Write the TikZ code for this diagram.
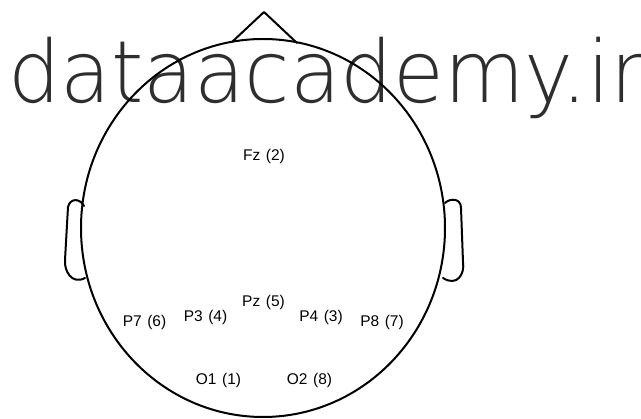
\documentclass[tikz,border=0pt]{standalone}
\usepackage{fontspec}
\newfontfamily\labfont{Liberation Sans}
\IfFontExistsTF{DejaVu Sans ExtraLight}
  {\newfontfamily\logofont{DejaVu Sans ExtraLight}\def\logocol{black!82}}
  {\newfontfamily\logofont{DejaVu Sans}\def\logocol{black!55}}
\tikzset{
  headline/.style={line width=2pt, line join=round, line cap=round},
  elec/.style={font=\labfont\fontsize{15.5}{17}\selectfont, inner sep=0pt, anchor=base},
  logo/.style={inner sep=0pt, anchor=base west, text=\logocol}
}
\newcommand{\el}[2]{#1\hspace{0.36em}(#2)}
\begin{document}
\begin{tikzpicture}[x=1pt,y=-1pt]
\useasboundingbox (0,0) rectangle (641,419);
% watermark text
\node[logo] (logo) at (8,103) {\scalebox{0.96}[1]{\logofont\fontsize{86}{95}\selectfont dataacademy.ir}};
% head
\draw[headline] (263,228) ellipse [x radius=182, y radius=189];
\coordinate (nl) at (232,42);
\coordinate (nr) at (297,43);
\coordinate (apex) at (264,12);
\draw[headline] (nl) -- (apex) -- (nr);
% ears
\draw[headline] (84,206) .. controls (80,198) and (70,198) .. (68,207)
  -- (65,260) .. controls (64,271) and (72,285) .. (85,278);
\draw[headline] (445,203) .. controls (450,198) and (461,198) .. (461,208)
  -- (463,262) .. controls (465,274) and (457,287) .. (443,278);
% electrodes
\node[elec] (fz) at (264,160.5) {\el{Fz}{2}};
\node[elec] (pz) at (263.5,306.5) {\el{Pz}{5}};
\node[elec] (p7) at (144.5,326.5) {\el{P7}{6}};
\node[elec] (p3) at (205.5,322) {\el{P3}{4}};
\node[elec] (p4) at (321,322) {\el{P4}{3}};
\node[elec] (p8) at (382,327) {\el{P8}{7}};
\node[elec] (o1) at (218.5,384.5) {\el{O1}{1}};
\node[elec] (o2) at (309.5,384.5) {\el{O2}{8}};
\end{tikzpicture}
\end{document}
